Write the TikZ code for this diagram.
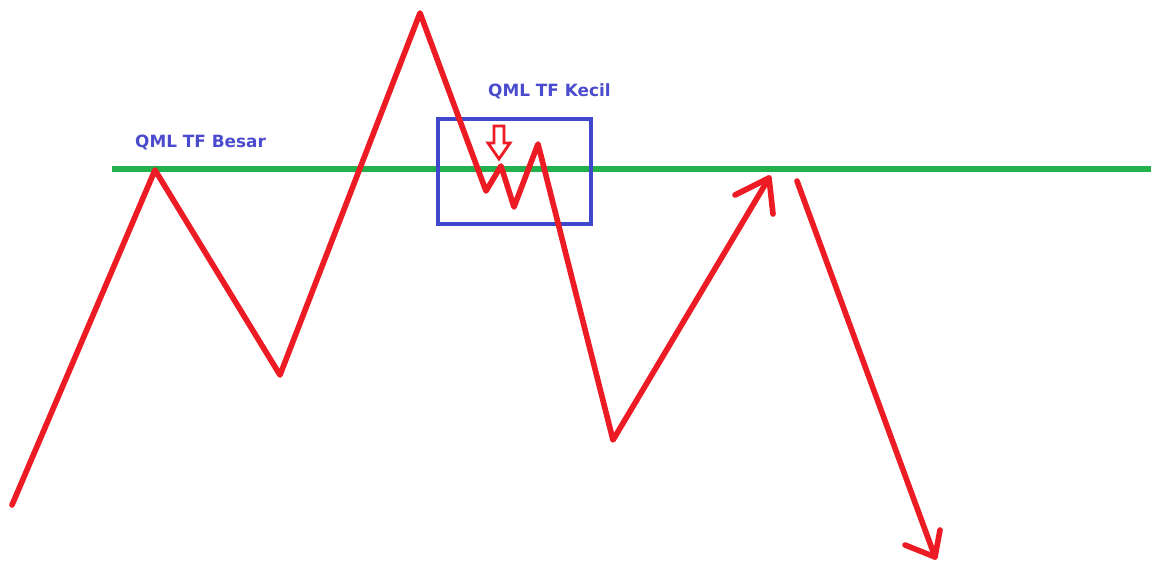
\documentclass[tikz,border=0pt]{standalone}
\usepackage{fontspec}
\setmainfont{DejaVu Sans}
\definecolor{trendred}{RGB}{237,28,36}
\definecolor{levelgreen}{RGB}{34,177,76}
\definecolor{boxblue}{RGB}{63,72,204}
\definecolor{labelblue}{RGB}{75,75,205}
\begin{document}
\begin{tikzpicture}[x=0.03cm,y=-0.03cm,
  price/.style={draw=trendred,line width=4.8pt,line cap=round,line join=round},
  label/.style={anchor=base west,inner sep=0pt,text=labelblue,font=\bfseries\fontsize{14.4}{17}\selectfont}]
\useasboundingbox (0,0) rectangle (1151,565);

% level line of the big timeframe
\draw[levelgreen,line width=4.4pt] (112,169) coordinate (Ls) -- (1151,169) coordinate (Le);

% small timeframe box
\draw[boxblue,line width=3.4pt] (438,119) rectangle (591,224);

% price path
\coordinate (P0) at (12,505);
\coordinate (P1) at (155,170);
\coordinate (P2) at (280,375);
\coordinate (P3) at (420,13);
\coordinate (P4) at (486,191);
\coordinate (P5) at (501,166);
\coordinate (P6) at (514,207);
\coordinate (P7) at (538,144);
\coordinate (P8) at (613,440);
\coordinate (P9) at (769,178);
\draw[price] (P0) -- (P1) -- (P2) -- (P3) -- (P4) -- (P5) -- (P6) -- (P7) -- (P8) -- (P9);
\draw[price] (735,195) -- (P9) -- (773,214);

% break down
\coordinate (Q0) at (797,181);
\coordinate (Q1) at (935,557);
\draw[price] (Q0) -- (Q1);
\draw[price] (905,545) -- (Q1) -- (940,530);

% small marker arrow
\draw[trendred,line width=2.4pt,fill=white,line join=miter]
  (494,126) -- (504,126) -- (504,143) -- (510,143) -- (499,159) -- (488,143) -- (494,143) -- cycle;

\node[label] (besar) at (135,148) {QML TF Besar};
\node[label] (kecil) at (488,97) {QML TF Kecil};

\end{tikzpicture}
\end{document}
